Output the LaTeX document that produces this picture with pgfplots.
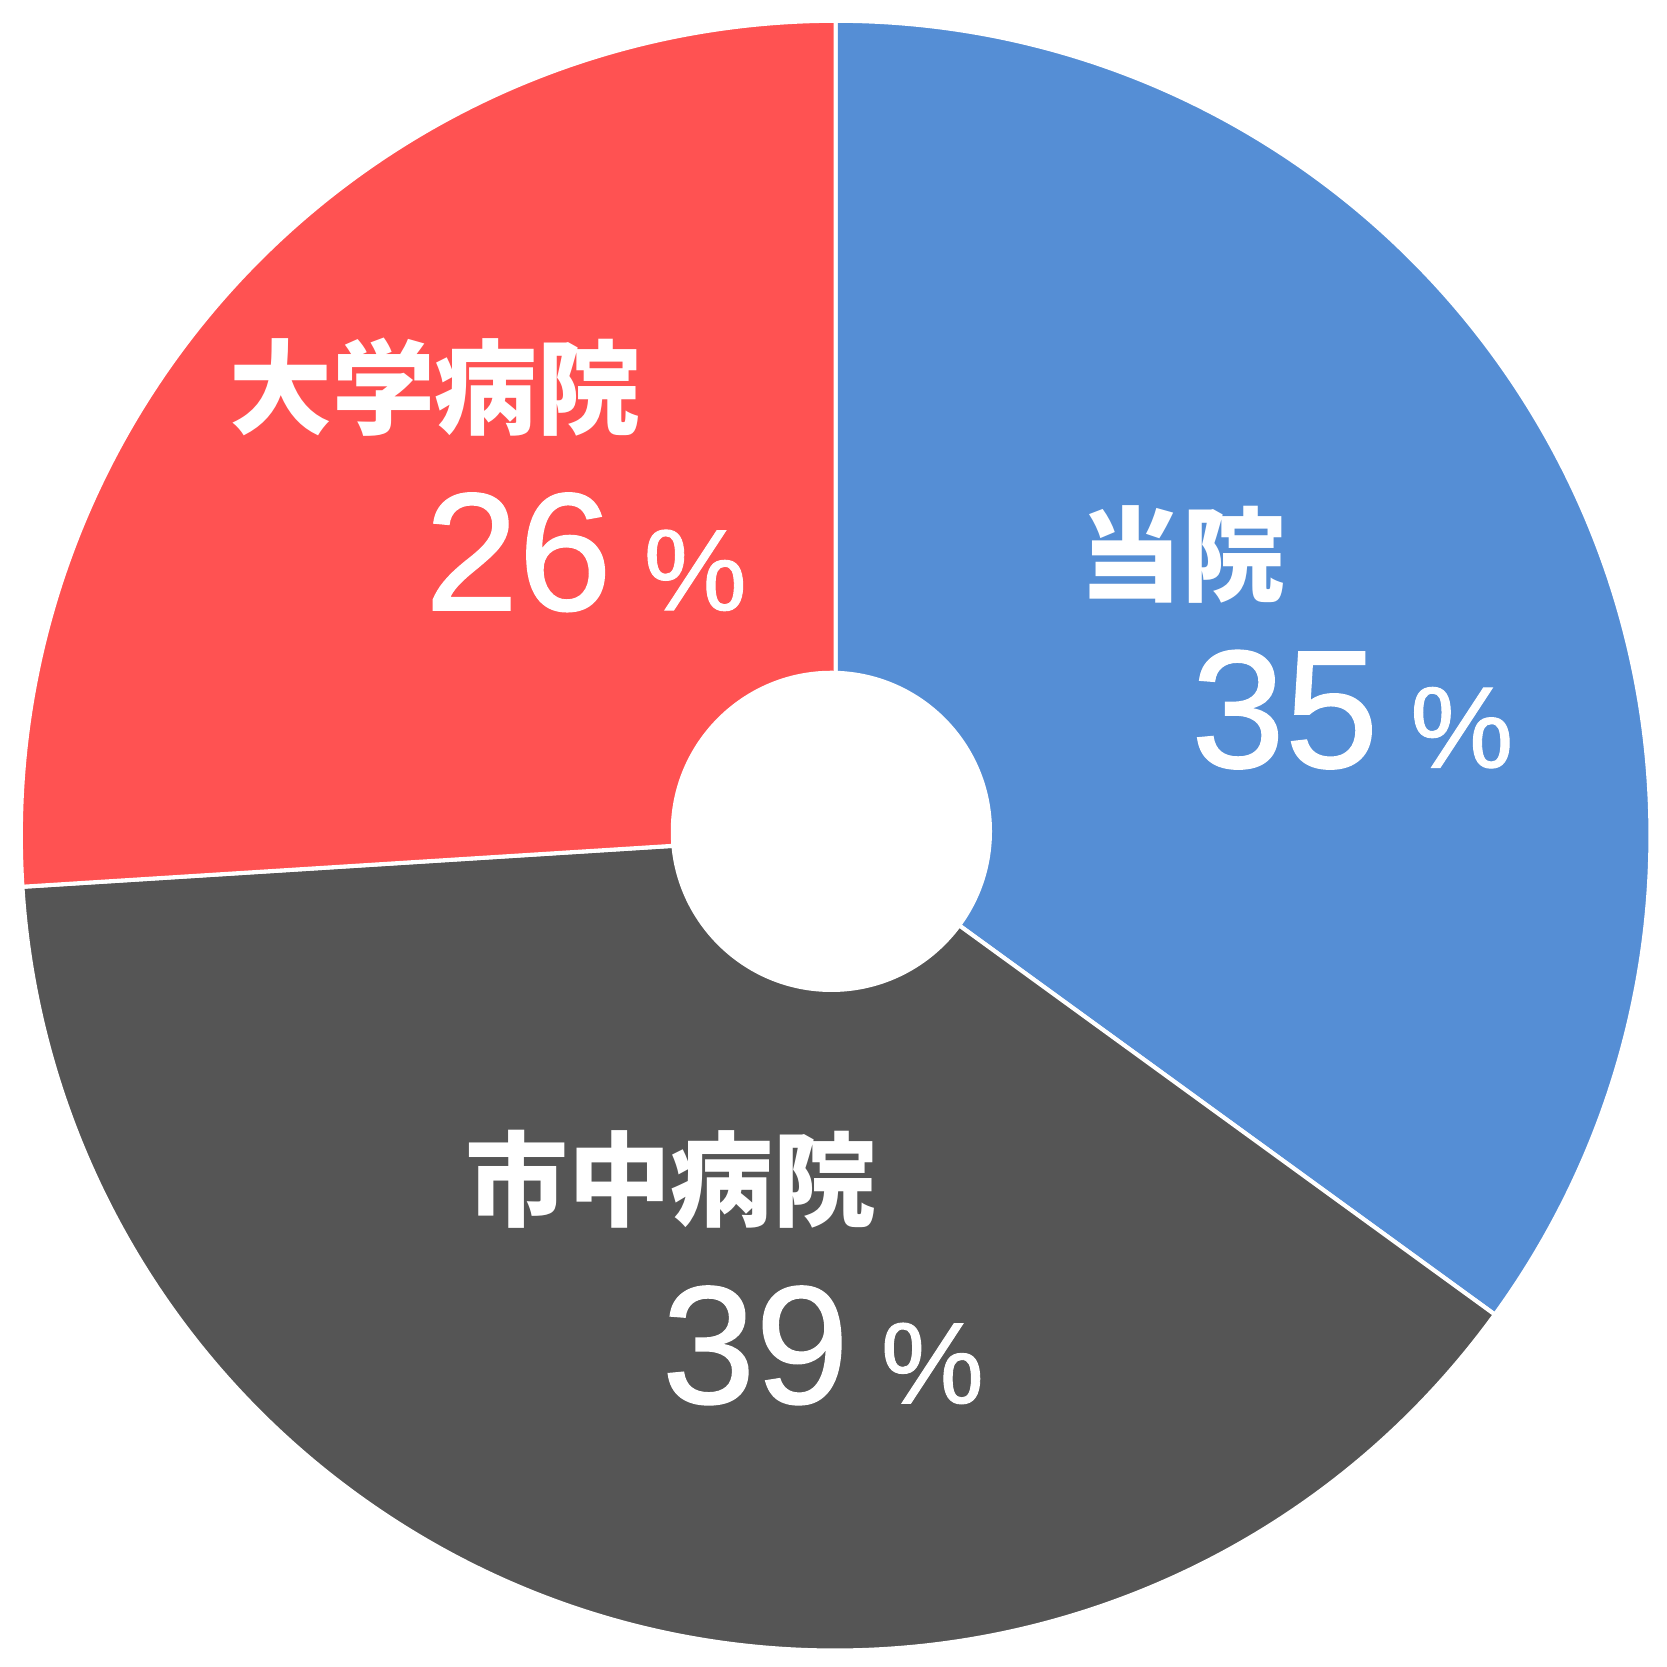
\documentclass[border=0pt]{standalone}
\usepackage{pgfplots}
\usepackage{pgfplotstable}
\pgfplotsset{compat=1.18}
\usepackage{fontspec}
\newfontfamily\jp{Noto Sans CJK JP}
\newfontfamily\num{Liberation Sans}[FakeBold=0.8]
\definecolor{cBlue}{HTML}{558ED5}
\definecolor{cGray}{HTML}{555555}
\definecolor{cRed}{HTML}{FF5252}

\pgfplotstableread{
key value
tou 35
shichu 39
daigaku 26
}\piedata

\pgfplotstablegetelem{0}{value}\of\piedata \edef\vA{\pgfplotsretval}
\pgfplotstablegetelem{1}{value}\of\piedata \edef\vB{\pgfplotsretval}
\pgfplotstablegetelem{2}{value}\of\piedata \edef\vC{\pgfplotsretval}
\pgfmathsetmacro\aO{90}
\pgfmathsetmacro\aA{90-3.6*\vA}
\pgfmathsetmacro\aB{\aA-3.6*\vB}
\pgfmathsetmacro\aC{\aB-3.6*\vC}

\newcommand{\lab}[1]{{\jp\bfseries\fontsize{27.5}{28}\selectfont #1}}
\newcommand{\pct}[1]{{\num\fontsize{45}{45}\selectfont #1\hspace{0.30cm}{\fontsize{31}{31}\selectfont\%}}}

\begin{document}
\begin{tikzpicture}
\begin{axis}[
  name=ax,
  x=0.01cm, y=0.01cm,
  xmin=0, xmax=1568, ymin=0, ymax=1568,
  hide axis, clip=false,
]
\fill[cBlue, draw=white, line width=1.1pt] (axis cs:786,782) -- ++(\aO:7.66cm) arc[start angle=\aO, end angle=\aA, radius=7.66cm] -- cycle;
\fill[cGray, draw=white, line width=1.1pt] (axis cs:786,782) -- ++(\aA:7.66cm) arc[start angle=\aA, end angle=\aB, radius=7.66cm] -- cycle;
\fill[cRed, draw=white, line width=1.1pt] (axis cs:786,782) -- ++(\aB:7.66cm) arc[start angle=\aB, end angle=\aC, radius=7.66cm] -- cycle;
\fill[white] (axis cs:782,786) circle[radius=1.51cm];

\node[white] at (axis cs:1112,1046) {\lab{当院}};
\node[white, anchor=base] at (axis cs:1272,846) {\pct{\vA}};
\node[white] at (axis cs:631,459) {\lab{市中病院}};
\node[white, anchor=base] at (axis cs:774,248) {\pct{\vB}};
\node[white] at (axis cs:409,1204) {\lab{大学病院}};
\node[white, anchor=base] at (axis cs:551,994) {\pct{\vC}};
\end{axis}
\pgfresetboundingbox
\useasboundingbox (ax.south west) rectangle (ax.north east);
\end{tikzpicture}
\end{document}
